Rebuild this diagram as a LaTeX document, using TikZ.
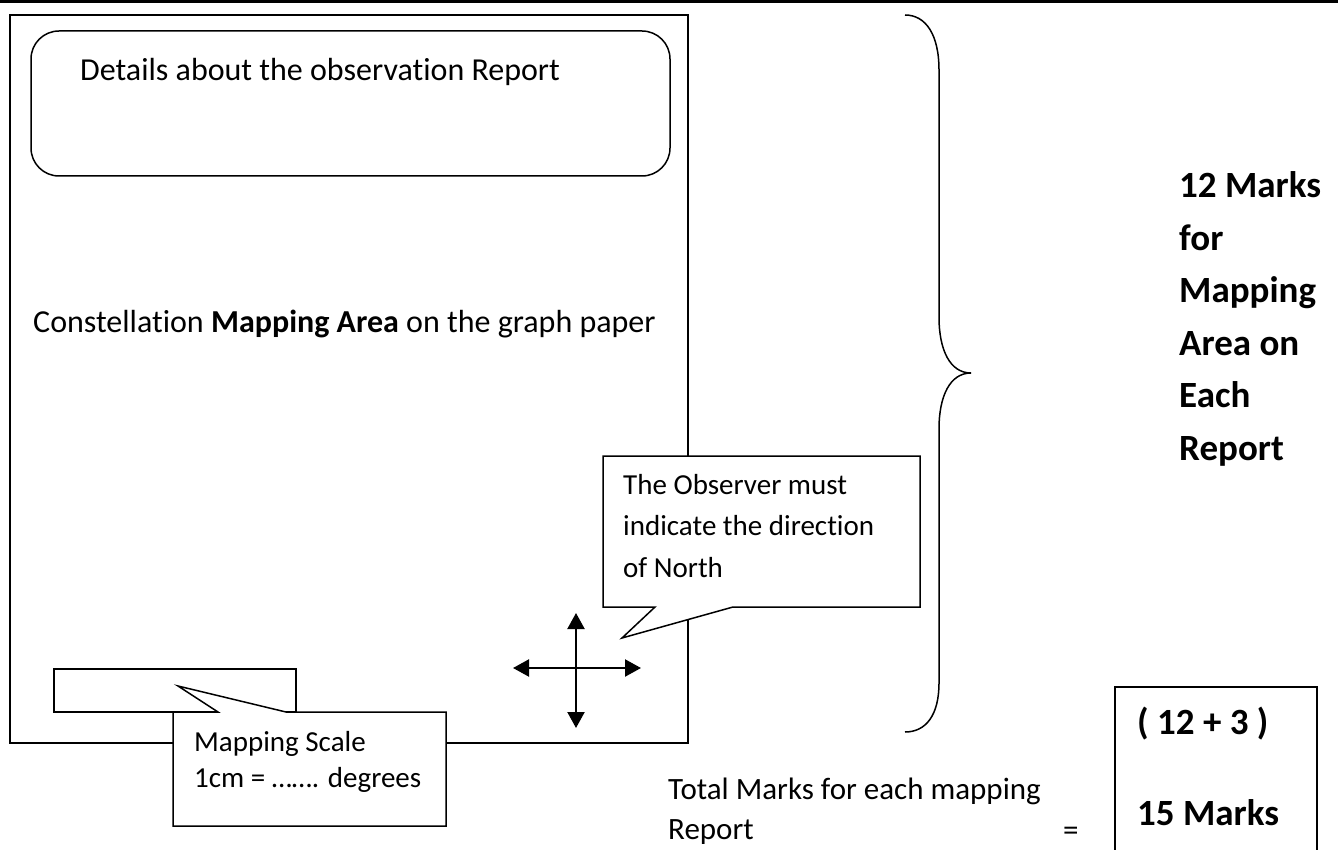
\documentclass[tikz,border=0pt]{standalone}
\usepackage{fontspec}
\setmainfont{Carlito}[Ligatures=NoCommon]
\usetikzlibrary{arrows.meta}
\tikzset{
  boxline/.style={line width=1.5pt},
  txt/.style={anchor=base west, inner sep=0pt, font=\fontsize{29}{35}\selectfont},
  bigtxt/.style={anchor=base west, inner sep=0pt, font=\fontsize{32}{38}\selectfont},
  totaltxt/.style={anchor=base west, inner sep=0pt, font=\fontsize{31}{37}\selectfont},
  marktxt/.style={anchor=base west, inner sep=0pt, font=\fontsize{37}{44}\selectfont\bfseries},
  compass/.style={line width=2.2pt, {Triangle[length=16pt,width=17pt]}-{Triangle[length=16pt,width=17pt]}}
}
\begin{document}
\begin{tikzpicture}[x=1pt, y=-1pt]
  \useasboundingbox (0,0) rectangle (1338,850);
  \fill[white] (0,0) rectangle (1338,850);
  \draw[line width=3pt] (0,1.5) -- (1338,1.5);
  \draw[line width=2pt] (10,15) rectangle (688,743);
  \draw[boxline, rounded corners=28pt] (31,31) rectangle (670,176);
  \node[bigtxt] (details) at (80,81) {Details about the observation Report};
  \node[bigtxt] (mapping) at (33,332) {Constellation \textbf{Mapping Area} on the graph paper};
  \draw[boxline, fill=white] (603,456) -- (920,456) -- (920,607) -- (733,607) -- (622,638) -- (655,607) -- (603,607) -- cycle;
  \node[txt] (north1) at (623,494) {The Observer must};
  \node[txt] (north2) at (623,535) {indicate the direction};
  \node[txt] (north3) at (623,577) {of North};
  \draw[compass] (576,613) -- (576,728);
  \draw[compass] (513,668) -- (641,668);
  \draw[boxline] (54,669) rectangle (296,712);
  \draw[boxline, fill=white] (173,712) -- (218,712) -- (178,686) -- (286,712) -- (446,712) -- (446,826) -- (173,826) -- cycle;
  \node[txt] (scale1) at (194,751) {Mapping Scale};
  \node[txt] (scale2) at (194,787) {1cm = ……. degrees};
  \draw[boxline] (905,15) .. controls (926,15) and (939,35) .. (939,70) -- (939,317) .. controls (939,350) and (950,373) .. (971,373) .. controls (950,373) and (939,396) .. (939,429) -- (939,683) .. controls (939,715) and (926,732) .. (905,732);
  \node[marktxt] (marks1) at (1179,198) {12 Marks};
  \node[marktxt] (marks2) at (1179,250.4) {for};
  \node[marktxt] (marks3) at (1179,302.8) {Mapping};
  \node[marktxt] (marks4) at (1179,355.2) {Area on};
  \node[marktxt] (marks5) at (1179,407.6) {Each};
  \node[marktxt] (marks6) at (1179,460) {Report};
  \node[totaltxt] (total1) at (668,799) {Total Marks for each mapping};
  \node[totaltxt] (total2) at (668,839) {Report};
  \node[totaltxt] (equals) at (1063,840) {=};
  \draw[line width=2pt] (1115,852) -- (1115,687) -- (1317,687) -- (1317,852);
  \node[marktxt] (sum) at (1137,734) {( 12 + 3 )};
  \node[marktxt] (result) at (1137,825) {15 Marks};
\end{tikzpicture}
\end{document}
